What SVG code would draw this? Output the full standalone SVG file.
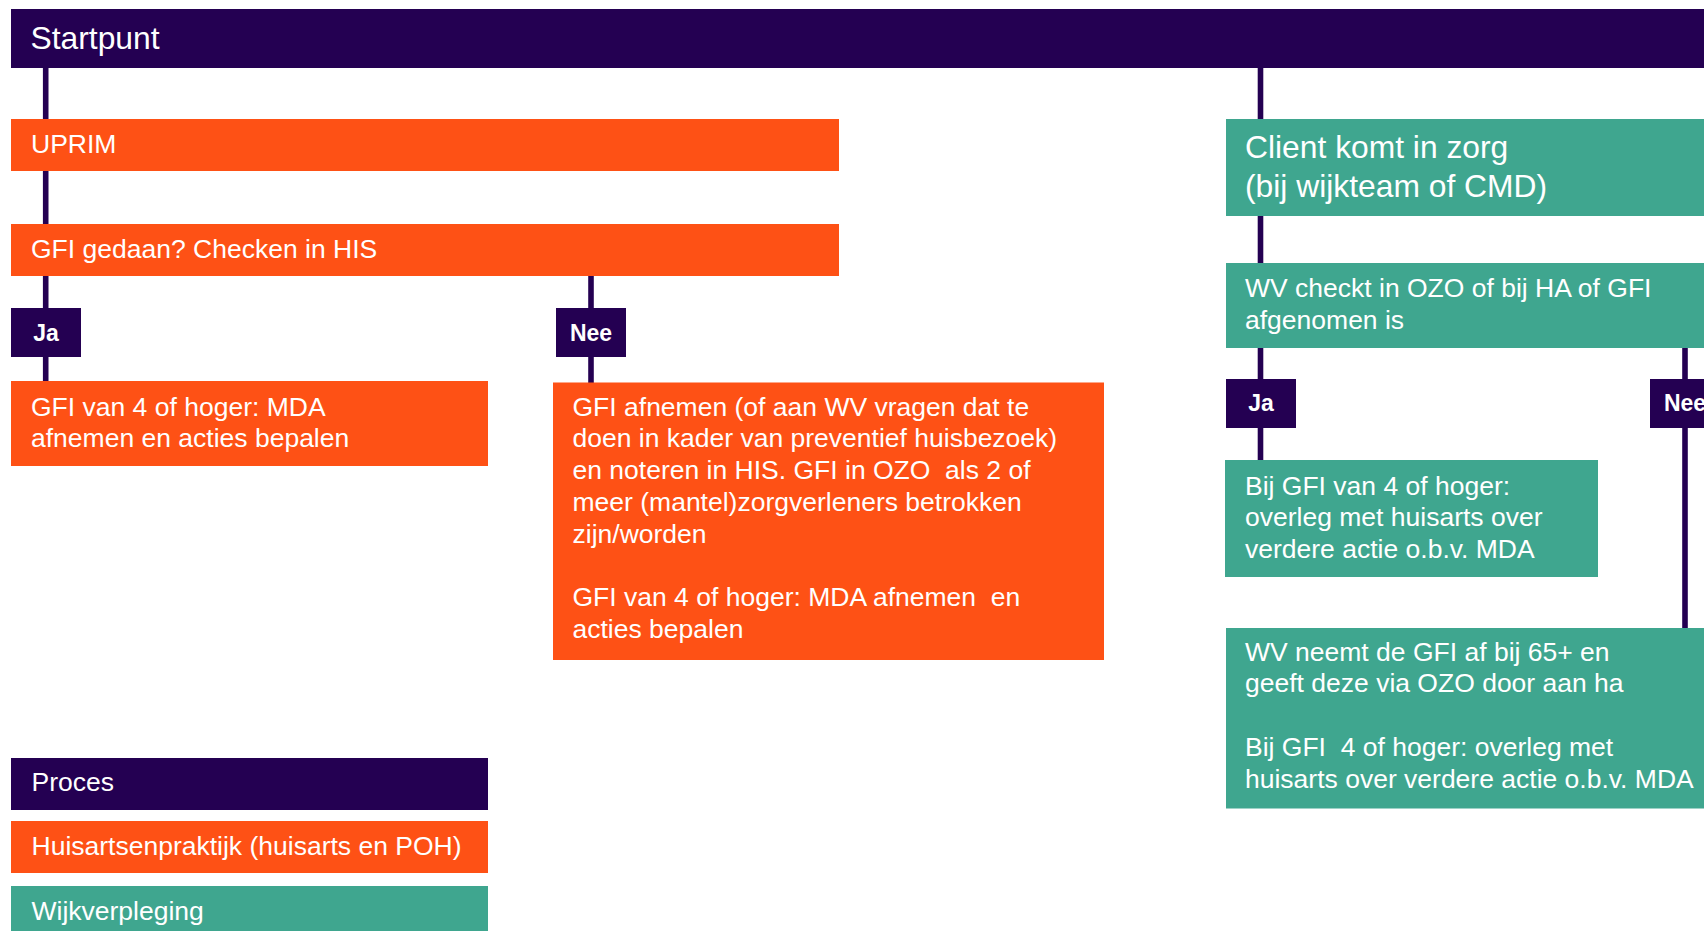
<svg xmlns="http://www.w3.org/2000/svg" width="1704" height="931" viewBox="0 0 1704 931">
<style>
.p{fill:#240052}.o{fill:#FE5115}.t{fill:#3FA68F}
text{font-family:"Liberation Sans",Arial,Helvetica,sans-serif;fill:#fff;font-size:26.5px}
.big{font-size:31.8px}
.lbl{font-weight:bold;font-size:23px;text-anchor:middle}
.ln{stroke:#240052;stroke-width:5.6;fill:none}
</style>
<rect width="1704" height="931" fill="#fff"/>
<g id="connectors">
<line class="ln" x1="45.7" y1="60" x2="45.7" y2="385"/>
<line class="ln" x1="591" y1="270" x2="591" y2="386"/>
<line class="ln" x1="1260.5" y1="60" x2="1260.5" y2="464"/>
<line class="ln" x1="1685" y1="340" x2="1685" y2="632"/>
</g>
<g id="startpunt"><rect class="p" x="11" y="9" width="1693" height="59"/><text class="big" x="30.5" y="48.8">Startpunt</text></g>
<g id="uprim"><rect class="o" x="11" y="119" width="828" height="52"/><text x="31" y="153.2">UPRIM</text></g>
<g id="gfi-gedaan"><rect class="o" x="11" y="224" width="828" height="52"/><text x="31" y="258.2">GFI gedaan? Checken in HIS</text></g>
<g id="ja-left"><rect class="p" x="11" y="308" width="70" height="49"/><text class="lbl" x="46" y="340.5">Ja</text></g>
<g id="nee-left"><rect class="p" x="556" y="308" width="70" height="49"/><text class="lbl" x="591" y="340.5">Nee</text></g>
<g id="gfi-van-4"><rect class="o" x="11" y="381" width="477" height="85"/><text x="31" y="415.5">GFI van 4 of hoger: MDA</text><text x="31" y="447.3">afnemen en acties bepalen</text></g>
<g id="gfi-afnemen"><rect class="o" x="553" y="382.5" width="551" height="277.5"/>
<text x="572.5" y="415.5">GFI afnemen (of aan WV vragen dat te</text>
<text x="572.5" y="447.3">doen in kader van preventief huisbezoek)</text>
<text x="572.5" y="479.1" xml:space="preserve">en noteren in HIS. GFI in OZO  als 2 of</text>
<text x="572.5" y="510.9">meer (mantel)zorgverleners betrokken</text>
<text x="572.5" y="542.7">zijn/worden</text>
<text x="572.5" y="606.3" xml:space="preserve">GFI van 4 of hoger: MDA afnemen  en</text>
<text x="572.5" y="638.1">acties bepalen</text></g>
<g id="client"><rect class="t" x="1226" y="119" width="478" height="97"/><text class="big" x="1245" y="158.2">Client komt in zorg</text><text class="big" x="1245" y="196.5">(bij wijkteam of CMD)</text></g>
<g id="wv-checkt"><rect class="t" x="1226" y="263" width="478" height="85"/><text x="1245" y="297.2">WV checkt in OZO of bij HA of GFI</text><text x="1245" y="328.9">afgenomen is</text></g>
<g id="ja-right"><rect class="p" x="1226" y="379" width="70" height="49"/><text class="lbl" x="1261" y="410.5">Ja</text></g>
<g id="nee-right"><rect class="p" x="1650" y="379" width="70" height="49"/><text class="lbl" x="1685" y="410.5">Nee</text></g>
<g id="bij-gfi"><rect class="t" x="1225" y="460" width="373" height="117"/><text x="1245" y="494.5">Bij GFI van 4 of hoger:</text><text x="1245" y="526.3">overleg met huisarts over</text><text x="1245" y="558.1">verdere actie o.b.v. MDA</text></g>
<g id="wv-neemt"><rect class="t" x="1226" y="628" width="478" height="180.5"/>
<text x="1245" y="660.5">WV neemt de GFI af bij 65+ en</text>
<text x="1245" y="692.3">geeft deze via OZO door aan ha</text>
<text x="1245" y="755.9" xml:space="preserve">Bij GFI  4 of hoger: overleg met</text>
<text x="1245" y="787.7">huisarts over verdere actie o.b.v. MDA</text></g>
<g id="legend-proces"><rect class="p" x="11" y="758" width="477" height="52"/><text x="31.5" y="791.2">Proces</text></g>
<g id="legend-huisarts"><rect class="o" x="11" y="821" width="477" height="52"/><text x="31.5" y="854.8">Huisartsenpraktijk (huisarts en POH)</text></g>
<g id="legend-wijk"><rect class="t" x="11" y="886" width="477" height="52"/><text x="31.5" y="919.5">Wijkverpleging</text></g>
</svg>
